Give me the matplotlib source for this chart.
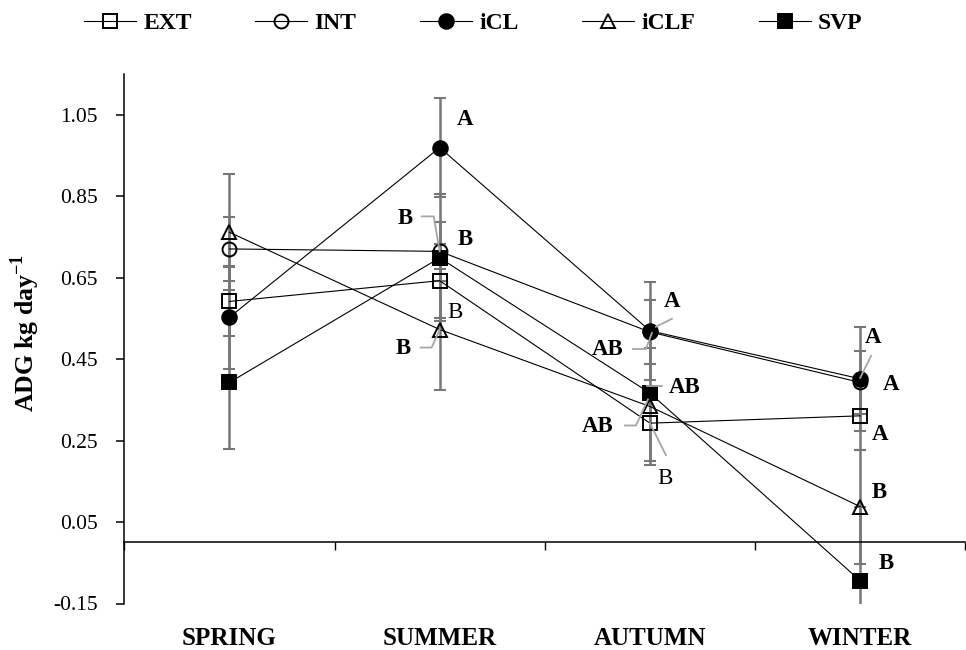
import matplotlib
matplotlib.use("Agg")
import matplotlib.pyplot as plt
from matplotlib.lines import Line2D
import numpy as np

# ---------------- data ----------------
seasons = ["SPRING", "SUMMER", "AUTUMN", "WINTER"]
series_names = ["EXT", "INT", "iCL", "iCLF", "SVP"]

ext_vals = [0.592, 0.643, 0.293, 0.311]
int_vals = [0.721, 0.715, 0.517, 0.393]
icl_vals = [0.553, 0.970, 0.520, 0.402]
iclf_vals = [0.762, 0.523, 0.334, 0.088]
svp_vals = [0.393, 0.699, 0.367, -0.094]

ext_err = [0.085, 0.091, 0.092, 0.085]
int_err = [0.078, 0.072, 0.078, 0.078]
icl_err = [0.126, 0.122, 0.121, 0.128]
iclf_err = [0.142, 0.148, 0.144, 0.140]
svp_err = [0.163, 0.156, 0.015, 0.180]

y_ticks = [-0.15, 0.05, 0.25, 0.45, 0.65, 0.85, 1.05]
y_tick_labels = ["-0.15", "0.05", "0.25", "0.45", "0.65", "0.85", "1.05"]

# significance letters: (season index, series, letter, bold)
letters = [
    (1, "iCL", "A", True), (1, "INT", "B", True), (1, "SVP", "B", True),
    (1, "EXT", "B", False), (1, "iCLF", "B", True),
    (2, "iCL", "A", True), (2, "INT", "AB", True), (2, "SVP", "AB", True),
    (2, "iCLF", "AB", True), (2, "EXT", "B", False),
    (3, "iCL", "A", True), (3, "INT", "A", True), (3, "EXT", "A", True),
    (3, "iCLF", "B", True), (3, "SVP", "B", True),
]

# ---------------- layout / style ----------------
label_offsets = [  # pixel offsets of letter centre (x right, y down)
    (25, -28), (-34, -33), (26, -18), (15, 32), (-36, 19),
    (22, -29), (-42, 18), (35, -6), (-52, 20), (15, 55),
    (13, -41), (31, 2), (20, 19), (19, -14), (26, -17),
]
leaders = {  # index in letters -> polyline pixel offsets (x right, y down)
    1: [(-18, -35), (-6, -35), (0, 0)],
    4: [(-19, 18), (-8, 18), (0, 0)],
    5: [(22, -12), (6, -4)],
    6: [(-17, 17), (-4, 17), (2, 1)],
    7: [(-3, -7), (12, -7)],
    8: [(-25, 19), (-14, 19), (-2, -7)],
    9: [(16, 32), (0, 0)],
    10: [(11, -23), (0, -1)],
}

plt.rcParams["font.family"] = ["Liberation Serif", "DejaVu Serif"]
plt.rcParams["mathtext.fontset"] = "custom"
plt.rcParams["mathtext.rm"] = "Liberation Serif"
plt.rcParams["mathtext.bf"] = "Liberation Serif:bold"

W, H = 966, 650
fig = plt.figure(figsize=(W / 100, H / 100), dpi=100)
ax = fig.add_axes([124.3 / W, (H - 603.5) / H, 841 / W, (603.5 - 74.3) / H])

x = np.arange(len(seasons))
vals = dict(zip(series_names, [ext_vals, int_vals, icl_vals, iclf_vals, svp_vals]))
errs = dict(zip(series_names, [ext_err, int_err, icl_err, iclf_err, svp_err]))
styles = {
    "EXT": dict(marker="s", mfc="none", ms=10),
    "INT": dict(marker="o", mfc="none", ms=10),
    "iCL": dict(marker="o", mfc="black", ms=10.5),
    "iCLF": dict(marker="^", mfc="none", ms=10),
    "SVP": dict(marker="s", mfc="black", ms=10.5),
}

handles = []
for name in series_names:
    ax.errorbar(x, vals[name], yerr=errs[name], fmt="none", ecolor="#777777",
                elinewidth=1.8, capsize=4, capthick=1.5, zorder=2)
for name in series_names:
    st = styles[name]
    (ln,) = ax.plot(x, vals[name], color="black", lw=0.8, marker=st["marker"],
                    mfc=st["mfc"], mec="black", mew=1.4, ms=st["ms"], zorder=3,
                    label=name)
    handles.append(ln)

ax.set_xlim(-0.5, len(seasons) - 0.5)
ax.set_ylim(-0.15, 1.15)

# y axis
ax.set_yticks(y_ticks)
ax.set_yticklabels(y_tick_labels, fontsize=15.5)
ax.tick_params(axis="y", direction="out", length=6, width=1.1, pad=13)
ax.spines["left"].set_linewidth(1.1)
ax.spines["top"].set_visible(False)
ax.spines["right"].set_visible(False)

# horizontal category axis crossing at zero
ax.spines["bottom"].set_position(("data", 0))
ax.spines["bottom"].set_linewidth(1.1)
ax.set_xticks(np.arange(-0.5, len(seasons), 1.0))
ax.set_xticklabels([])
ax.tick_params(axis="x", direction="out", length=6, width=1.0)

# category labels at the bottom
sec = ax.secondary_xaxis("bottom")
sec.set_xticks(x)
sec.set_xticklabels(seasons, fontsize=18, fontweight="bold")
sec.tick_params(length=0, pad=17)
sec.spines["bottom"].set_visible(False)

ax.set_ylabel(r"ADG kg day$^{\mathbf{-1}}$", fontsize=18.5, fontweight="bold")
ax.yaxis.set_label_coords((42 - 124.3) / 841, (603.5 - 333) / (603.5 - 74.3))

# letters and leaders
fig.canvas.draw()
for i, (s, name, txt, bold) in enumerate(letters):
    dx, dy = label_offsets[i]
    ax.annotate(txt, xy=(x[s], vals[name][s]), xytext=(dx, -dy),
                textcoords="offset pixels", ha="center", va="center",
                fontsize=16.5, fontweight="bold" if bold else "normal", zorder=6)
    if i in leaders:
        px, py = ax.transData.transform((x[s], vals[name][s]))
        pts = np.array([(px + a, py - b) for a, b in leaders[i]])
        fig.add_artist(Line2D(pts[:, 0], pts[:, 1], transform=None,
                              color="#a6a6a6", lw=1.3, zorder=7))

fig.legend(handles=handles, labels=series_names, loc="center",
           bbox_to_anchor=(0.49, 1 - 23 / H), ncol=5, frameon=False,
           prop={"weight": "bold", "size": 17}, handlelength=2.2,
           handletextpad=0.3, columnspacing=2.7)

fig.savefig("out.png", dpi=100)
